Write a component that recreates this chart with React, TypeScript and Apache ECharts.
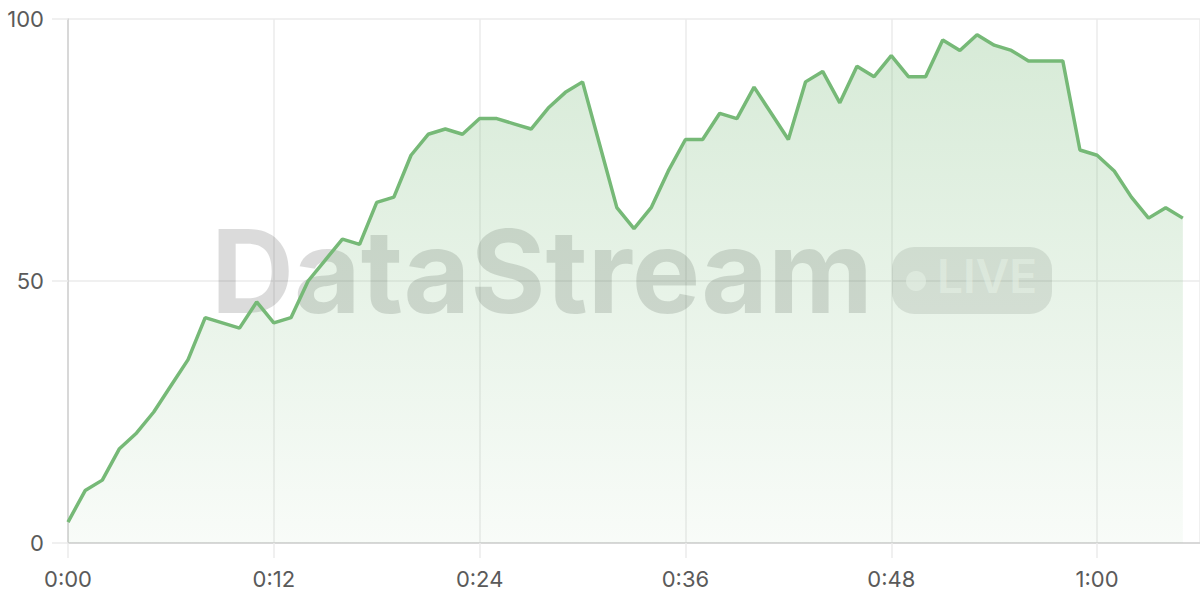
import React, { useEffect, useRef } from "react";
import * as echarts from "echarts";

const seconds = [
  0, 1, 2, 3, 4, 5, 6, 7, 8, 9, 10, 11, 12, 13, 14, 15, 16, 17, 18, 19, 20, 21,
  22, 23, 24, 25, 26, 27, 28, 29, 30, 31, 32, 33, 34, 35, 36, 37, 38, 39, 40, 41,
  42, 43, 44, 45, 46, 47, 48, 49, 50, 51, 52, 53, 54, 55, 56, 57, 58, 59, 60, 61,
  62, 63, 64, 65,
];
const values = [
  4, 10, 12, 18, 21, 25, 30, 35, 43, 42, 41, 46, 42, 43, 50, 54, 58, 57, 65, 66,
  74, 78, 79, 78, 81, 81, 80, 79, 83, 86, 88, 76, 64, 60, 64, 71, 77, 77, 82, 81,
  87, 82, 77, 88, 90, 84, 91, 89, 93, 89, 89, 96, 94, 97, 95, 94, 92, 92, 92, 75,
  74, 71, 66, 62, 64, 62,
];
const xMin = 0;
const xMax = 66;
const xInterval = 12;
const yMin = 0;
const yMax = 100;
const yInterval = 50;
const watermarkTitle = "DataStream";
const watermarkBadge = "LIVE";

const fmtTime = (v: number) => {
  const m = Math.floor(v / 60);
  const s = Math.round(v % 60);
  return `${m}:${String(s).padStart(2, "0")}`;
};

export default function App() {
  const ref = useRef<HTMLDivElement>(null);
  useEffect(() => {
    document.body.style.margin = "0";
    if (!ref.current) return;
    const chart = echarts.init(ref.current, undefined, { renderer: "svg" });
    const grid = "#ebebeb";
    const axis = "#d0d0d0";
    const font = "Inter, 'Noto Sans', sans-serif";
    chart.setOption({
      animation: false,
      grid: { left: 68, right: 0, top: 19, bottom: 57 },
      xAxis: {
        type: "value",
        min: xMin,
        max: xMax,
        interval: xInterval,
        axisLine: { show: true, lineStyle: { color: axis, width: 1.5 } },
        axisTick: { show: true, length: 15, lineStyle: { color: grid, width: 1.5 } },
        splitLine: { show: true, lineStyle: { color: grid, width: 1.5 } },
        axisLabel: {
          showMaxLabel: false,
          margin: 25,
          fontSize: 22,
          color: "#5a5a5a",
          fontFamily: font,
          formatter: (v: number) => (v % xInterval === 0 ? fmtTime(v) : ""),
        },
      },
      yAxis: {
        type: "value",
        min: yMin,
        max: yMax,
        interval: yInterval,
        axisLine: { show: true, lineStyle: { color: axis, width: 1.5 } },
        axisTick: { show: true, length: 16, lineStyle: { color: grid, width: 1.5 } },
        splitLine: { show: true, lineStyle: { color: grid, width: 1.5 } },
        axisLabel: { margin: 24, fontSize: 22, color: "#5a5a5a", fontFamily: font },
      },
      graphic: [
        {
          type: "text",
          z: 1,
          left: 211,
          top: 214,
          style: {
            text: watermarkTitle,
            fontSize: 115,
            fontWeight: "bold",
            fontFamily: font,
            fill: "rgba(0,0,0,0.14)",
          },
        },
        {
          type: "rect",
          z: 1,
          shape: { x: 892, y: 247, width: 160, height: 67, r: 22 },
          style: { fill: "rgba(0,0,0,0.1)" },
        },
        {
          type: "circle",
          z: 1,
          shape: { cx: 916, cy: 281, r: 10 },
          style: { fill: "rgba(255,255,255,0.55)" },
        },
        {
          type: "text",
          z: 1,
          left: 937,
          top: 253,
          style: {
            text: watermarkBadge,
            fontSize: 46,
            fontWeight: 600,
            fontFamily: font,
            fill: "rgba(255,255,255,0.55)",
          },
        },
      ],
      series: [
        {
          type: "line",
          z: 3,
          data: seconds.map((t, i) => [t, values[i]]),
          showSymbol: false,
          lineStyle: { color: "#76b977", width: 3.5 },
          itemStyle: { color: "#76b977" },
          areaStyle: {
            color: new echarts.graphic.LinearGradient(0, 0, 0, 1, [
              { offset: 0, color: "rgba(118,185,119,0.42)" },
              { offset: 1, color: "rgba(118,185,119,0.07)" },
            ]),
          },
        },
      ],
    });
    return () => chart.dispose();
  }, []);
  return <div ref={ref} style={{ width: 1200, height: 600 }} />;
}
